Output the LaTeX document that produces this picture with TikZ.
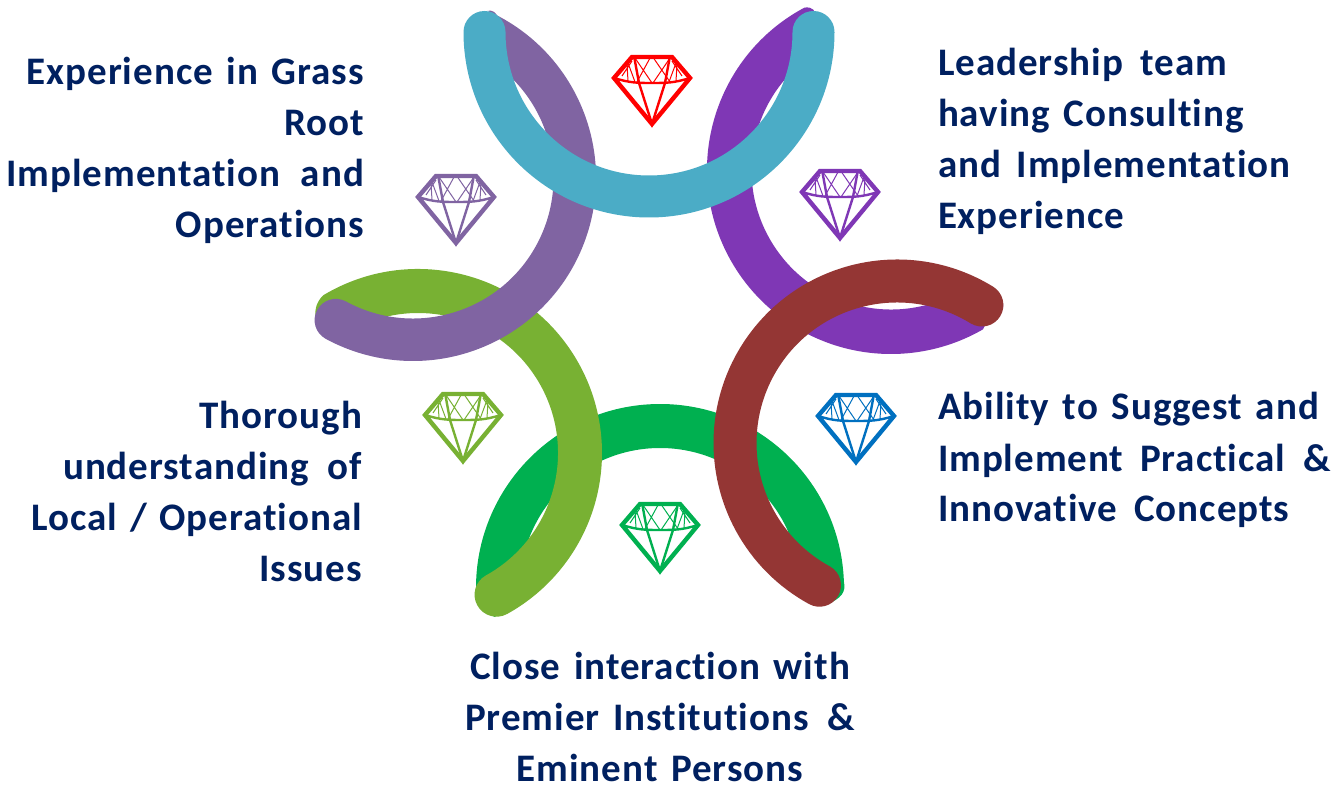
\documentclass[tikz,border=0pt]{standalone}
\usepackage{fontspec}
\setmainfont[LetterSpace=2.5,WordSpace=1.4,Ligatures=NoCommon]{Carlito}
\definecolor{navy}{HTML}{002060}
\definecolor{tealc}{HTML}{4BACC6}
\definecolor{violetc}{HTML}{8064A2}
\definecolor{purplec}{HTML}{7F37B5}
\definecolor{brownc}{HTML}{943634}
\definecolor{lgreen}{HTML}{78B133}
\definecolor{greenc}{HTML}{00B050}
\definecolor{bluec}{HTML}{0070C0}
\tikzset{
  label/.style={font=\fontsize{39}{51}\selectfont\bfseries, text=navy, inner sep=0pt, outer sep=0pt},
  band/.style={line width=#1pt, line cap=round},
  pics/gem/.style={code={
    \draw[#1, line width=4.4pt, line join=miter] (-20,-1) -- (20,-1) -- (38,-22) -- (0,-68) -- (-38,-22) -- cycle;
    \draw[#1, line width=2.4pt] (-38,-22) .. controls (-22,-27) and (-14,-27) .. (0,-27) .. controls (14,-27) and (22,-27) .. (38,-22);
    \draw[#1, line width=2.4pt] (-18,0) -- (-13,-27) -- (0,-68) -- (13,-27) -- (18,0);
    \draw[#1, line width=1pt] (-17,-2) -- (0,-27) (-2,-2) -- (-15,-26)
       (1.5,-2) -- (18,-26) (18,-2) -- (1,-27);
    \draw[#1, line width=1pt] (-24,-7) -- (-17,-26) (-20,-5) -- (-30,-20) (-25,-8) -- (-24,-25);
    \draw[#1, line width=1pt] (24,-7) -- (17,-26) (20,-5) -- (30,-20) (25,-8) -- (24,-25);
  }}
}
\begin{document}
\begin{tikzpicture}[x=1pt,y=1pt]
\fill[white] (0,0) rectangle (1344,788);
\useasboundingbox (0,0) rectangle (1344,788);
\coordinate (G) at (660,200);
\coordinate (L) at (418,335);
\coordinate (V) at (413,610);
\coordinate (P) at (891,618);
\coordinate (T) at (649,756);
\coordinate (B) at (897,345);
% green
\fill[greenc] ([shift={(182:184)}]G) arc[start angle=182,end angle=2,radius=184pt]
  .. controls (846,196) and (842,190) .. (826,183)
  -- ([shift={(0:140)}]G) arc[start angle=0,end angle=180,radius=140pt]
  -- (495,171) .. controls (485,175) and (478,183) .. cycle;
% light green
\fill[lgreen] ([shift={(121:184)}]L) arc[start angle=121,end angle=-61,radius=184pt]
  arc[start angle=-61,end angle=-241,radius=22pt]
  arc[start angle=-61,end angle=125,radius=140pt]
  .. controls (316,455) and (308,478) .. cycle;
% violet
\fill[violetc] ([shift={(66:183)}]V) arc[start angle=66,end angle=-118.5,radius=183pt]
  arc[start angle=-118.5,end angle=-298.5,radius=21.25pt]
  arc[start angle=241.5,end angle=415,radius=140.5pt]
  .. controls (505,770) and (497,779) .. cycle;
% purple
\fill[purplec] ([shift={(118:184)}]P) arc[start angle=118,end angle=300,radius=184pt]
  .. controls (985,467) and (1006,474) .. (1003,484)
  .. controls (1000,490) and (980,495) .. ([shift={(-58:139.5)}]P)
  arc[start angle=-58,end angle=-235,radius=139.5pt]
  .. controls (815,765) and (822,782) .. cycle;
% teal and brown ribbons
\draw[tealc, band=42] ([shift={(180:164.5)}]T) arc[start angle=180,end angle=360,radius=164.5pt];
\draw[brownc, band=43] ([shift={(58.4:162)}]B) arc[start angle=58.4,end angle=241.4,radius=162pt];
% gems
\pic (gemred) at (652,732) {gem=red};
\pic (gemviolet) at (456,613) {gem=violetc};
\pic (gempurple) at (840,618) {gem=purplec};
\pic (gemlgreen) at (463,395) {gem=lgreen};
\pic (gemblue) at (856,394) {gem=bluec};
\pic (gemgreen) at (660,285) {gem=greenc};
% labels
\node[label, align=right, anchor=base east] (t1) at (364,550) {Experience in Grass\\Root\\Implementation\hspace{7pt} and\\Operations};
\node[label, align=right, anchor=base east] (t2) at (362,206.5) {Thorough\\understanding\hspace{5pt} of\\Local\hspace{-1pt} /\hspace{-1pt} Operational\\Issues};
\node[label, align=left, anchor=base west] (t3) at (938,559) {Leadership\hspace{4pt} team\\having Consulting\\and\hspace{2pt} Implementation\\Experience};
\node[label, align=left, anchor=base west] (t4) at (938,266) {Ability to Suggest and\\Implement\hspace{3pt} Practical\hspace{4pt} \&\\Innovative\hspace{3pt} Concepts};
\node[label, align=center, anchor=base] (t5) at (660,7) {Close interaction with\\Premier Institutions\hspace{5pt} \&\\Eminent Persons};
\end{tikzpicture}
\end{document}
